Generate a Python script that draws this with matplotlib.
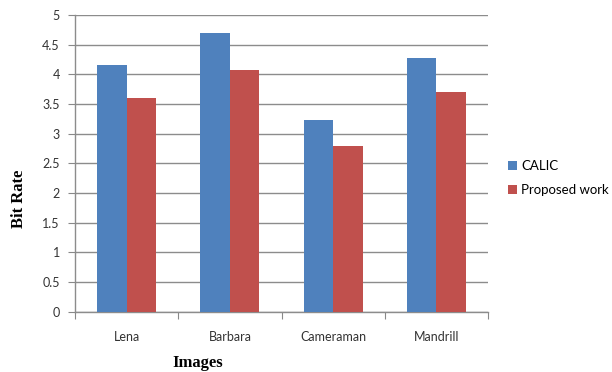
import matplotlib
matplotlib.use("Agg")
import matplotlib.pyplot as plt
import numpy as np

categories = ["Lena", "Barbara", "Cameraman", "Mandrill"]
calic = [4.16, 4.70, 3.23, 4.27]
proposed = [3.60, 4.07, 2.80, 3.70]
series_names = ["CALIC", "Proposed work"]
yticks = [0, 0.5, 1, 1.5, 2, 2.5, 3, 3.5, 4, 4.5, 5]
ytick_labels = ["0", "0.5", "1", "1.5", "2", "2.5", "3", "3.5", "4", "4.5", "5"]

fig = plt.figure(figsize=(6.12, 3.72), dpi=100)
ax = fig.add_axes([75/612, 1-311.7/372, (488-75)/612, (311.7-15)/372])

x = np.arange(len(categories))
w = 1/3.5
ax.bar(x - w/2, calic, w, color="#4F81BD", label=series_names[0], zorder=3)
ax.bar(x + w/2, proposed, w, color="#C0504D", label=series_names[1], zorder=3)

ax.set_xlim(-0.5, len(categories) - 0.5)
ax.set_ylim(0, 5)
ax.set_yticks(yticks)
ax.set_yticklabels(ytick_labels, fontfamily="Lato", fontsize=9, color="#333333")
ax.set_xticks(np.arange(-0.5, len(categories), 1.0))
ax.set_xticklabels([])
ax.set_xticks(x, minor=True)
ax.set_xticklabels(categories, minor=True, fontfamily="Lato", fontsize=9, color="#333333")
ax.tick_params(axis="x", which="minor", length=0, pad=14)
ax.tick_params(axis="x", which="major", length=5, color="#888888", direction="out")
ax.tick_params(axis="y", length=5, color="#888888", direction="out", pad=6)
ax.yaxis.grid(True, color="#8c8c8c", linewidth=1, zorder=0)
for s in ["top", "right"]:
    ax.spines[s].set_visible(False)
for s in ["left", "bottom"]:
    ax.spines[s].set_color("#8c8c8c")
    ax.spines[s].set_linewidth(1)

fig.text(19/612, 1-199/372, "Bit Rate", rotation=90, ha="center", va="center",
         fontfamily="Liberation Serif", fontweight="bold", fontsize=12)
fig.text(198/612, 1-363/372, "Images", ha="center", va="center",
         fontfamily="Liberation Serif", fontweight="bold", fontsize=12)

leg = fig.legend(loc="upper left", bbox_to_anchor=(508/612, 1-160/372), frameon=False,
                 prop={"family": "Lato", "size": 9.5}, handlelength=0.7, handleheight=0.7,
                 handletextpad=0.3, labelspacing=0.9, borderaxespad=0, borderpad=0)

fig.savefig("out.png", dpi=100)
